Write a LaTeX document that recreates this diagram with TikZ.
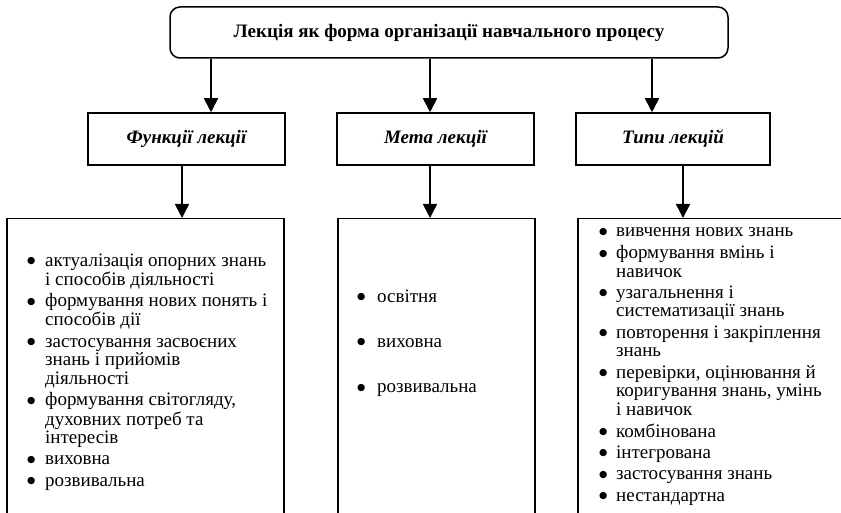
\documentclass[tikz,border=0pt]{standalone}
\usepackage{fontspec}
\setmainfont{Liberation Serif}
\newfontfamily\symf{DejaVu Sans}
\usetikzlibrary{arrows.meta}
\newcommand\lbul{\makebox[12pt]{\raisebox{2.6pt}{\symf\fontsize{9.5}{9.5}\selectfont ●}}}
\begin{document}
\begin{tikzpicture}[x=1pt,y=-1pt,
  box/.style={draw, line width=1.5pt, inner sep=0pt},
  arr/.style={line width=1.6pt, -{Triangle[length=14pt,width=14pt]}},
  lbl/.style={font=\fontsize{19}{18.4}\selectfont\bfseries\itshape},
  lst/.style={inner sep=0pt, anchor=base west, align=left, font=\fontsize{19}{18.4}\selectfont},
]
\clip (0,0) rectangle (841,513);
% top
\node[box, rounded corners=10pt, minimum width=558pt, minimum height=51pt,
  font=\fontsize{19}{18.4}\selectfont\bfseries] (top) at (449,32.5)
  {Лекція як форма організації навчального процесу};
% level 2
\node[box, lbl, minimum width=197pt, minimum height=52pt] (fun) at (186.5,139) {Функції лекції};
\node[box, lbl, minimum width=197pt, minimum height=52pt] (meta) at (435.5,139) {Мета лекції};
\node[box, lbl, minimum width=194pt, minimum height=52pt] (typ) at (673,139) {Типи лекцій};
% level 3 boxes (open at the bottom, cut by the picture edge)
\node[box, anchor=north west, minimum width=277pt, minimum height=330pt] (funL) at (6,218) {};
\node[box, anchor=north west, minimum width=197pt, minimum height=330pt] (metaL) at (337,218) {};
\node[box, anchor=north west, minimum width=300pt, minimum height=330pt] (typL) at (577,218) {};
% arrow columns
\coordinate (a1) at (211,0);
\coordinate (a2) at (430,0);
\coordinate (a3) at (652,0);
\coordinate (b1) at (182,0);
\coordinate (b2) at (430,0);
\coordinate (b3) at (683,0);
\draw[arr] (top.south -| a1) -- (fun.north -| a1);
\draw[arr] (top.south -| a2) -- (meta.north -| a2);
\draw[arr] (top.south -| a3) -- (typ.north -| a3);
\draw[arr] (fun.south -| b1) -- (funL.north -| b1);
\draw[arr] (meta.south -| b2) -- (metaL.north -| b2);
\draw[arr] (typ.south -| b3) -- (typL.north -| b3);
% lists
\node[lst] (funT) at (25,266) {\begin{tabular}[t]{@{}l@{\hspace{8pt}}l@{}}
\lbul & актуалізація опорних знань\\ & і способів діяльності\\[3pt]
\lbul & формування нових понять і\\ & способів дії\\[3pt]
\lbul & застосування засвоєних\\ & знань і прийомів\\ & діяльності\\[3pt]
\lbul & формування світогляду,\\ & духовних потреб та\\ & інтересів\\[3pt]
\lbul & виховна\\[3pt]
\lbul & розвивальна
\end{tabular}};
\node[lst] (metaT) at (355,302) {\begin{tabular}[t]{@{}l@{\hspace{10pt}}l@{}}
\lbul & освітня\\[27pt]
\lbul & виховна\\[27pt]
\lbul & розвивальна
\end{tabular}};
\node[lst] (typT) at (597,237) {\begin{tabular}[t]{@{}l@{\hspace{7pt}}l@{}}
\lbul & вивчення нових знань\\[3pt]
\lbul & формування вмінь і\\ & навичок\\[3pt]
\lbul & узагальнення і\\ & систематизації знань\\[3pt]
\lbul & повторення і закріплення\\ & знань\\[3pt]
\lbul & перевірки, оцінювання й\\ & коригування знань, умінь\\ & і навичок\\[3pt]
\lbul & комбінована\\[3pt]
\lbul & інтегрована\\[3pt]
\lbul & застосування знань\\[3pt]
\lbul & нестандартна
\end{tabular}};
\end{tikzpicture}
\end{document}
